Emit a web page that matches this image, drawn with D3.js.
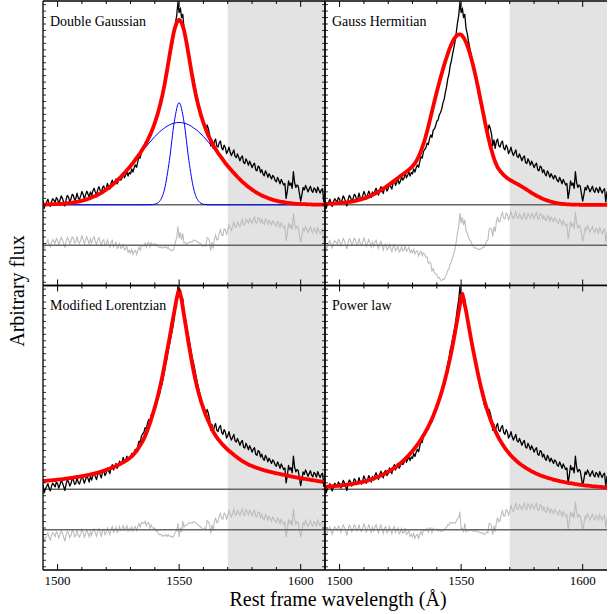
<!DOCTYPE html>
<html lang="en">
<head>
    <meta charset="UTF-8">
    <title>Line profile fits</title>
    <script src="https://d3js.org/d3.v7.min.js"></script>
    <style>
        body {
            margin: 0;
            background-color: #fff;
        }
        svg {
            display: block;
        }
        text {
            font-family: "Liberation Serif", "Times New Roman", serif;
            fill: #000;
        }
    </style>
</head>
<body>
    <svg id="chart" width="608" height="614"></svg>

    <script>
        // wavelength grid of the spectrum (Å), 0.5 Å per pixel, 1494 - 1610
        const wavelengths = d3.range(1494, 1610.25, 0.5);

        // observed line profile (arbitrary flux, peak ~100), 10 values per row = 5 Å
        const observed = [
            2.2, -1.8, 0.2, 1.4, 2.8, 0.6, -0.8, 1.6, 3.0, 2.2,
            1.2, 3.6, 2.8, 0.6, 2.4, 4.4, 3.2, 1.4, -0.6, 2.6,
            4.6, 3.8, 1.6, 2.8, 5.2, 4.6, 2.4, 3.0, 5.8, 3.4,
            2.6, 4.4, 6.6, 5.2, 3.0, 4.8, 6.8, 5.4, 3.6, 6.4,
            4.6, 6.8, 8.2, 6.4, 4.8, 7.4, 9.0, 7.2, 5.6, 8.6,
            9.4, 6.8, 8.0, 10.6, 9.0, 7.8, 10.8, 12.2, 9.6, 11.0,
            12.8, 10.4, 11.6, 14.0, 12.2, 13.2, 15.8, 13.4, 14.6, 16.4,
            14.2, 16.0, 15.4, 17.8, 16.2, 18.4, 19.8, 18.6, 21.4, 23.8,
            23.2, 26.4, 27.4, 28.2, 30.6, 29.8, 32.8, 34.6, 33.4, 37.0,
            37.6, 39.2, 41.4, 42.0, 44.6, 45.6, 47.4, 50.4, 52.2, 55.6,
            58.4, 62.4, 64.8, 69.0, 71.4, 74.8, 77.8, 81.0, 85.4, 90.2,
            93.8, 100.4, 95.2, 97.6, 92.8, 94.4, 87.6, 85.0, 81.2, 78.0,
            75.0, 71.4, 68.0, 64.6, 62.2, 59.0, 55.8, 52.8, 50.0, 47.4,
            44.8, 42.0, 40.2, 39.2, 36.8, 39.6, 37.8, 35.0, 29.2, 32.2,
            28.0, 31.4, 32.6, 29.2, 28.6, 30.8, 31.6, 28.2, 27.2, 29.6,
            28.4, 25.4, 26.6, 28.6, 26.0, 24.4, 25.8, 27.2, 24.0, 23.4,
            25.2, 23.6, 21.8, 23.4, 24.2, 21.0, 20.4, 22.8, 21.4, 19.6,
            21.6, 20.2, 18.4, 19.8, 20.6, 17.4, 16.8, 19.2, 18.6, 16.0,
            17.4, 15.2, 14.4, 16.8, 15.6, 13.6, 15.4, 14.2, 12.8, 14.6,
            13.8, 12.0, 11.4, 13.6, 12.2, 10.4, 12.6, 11.2, 9.8, 10.6,
            3.2, 6.8, 11.8, 9.6, 10.8, 8.2, 16.4, 11.0, 8.6, 9.8,
            9.2, 5.4, 1.8, 5.0, 8.6, 7.4, 9.6, 8.2, 6.4, 7.8,
            9.2, 7.0, 6.2, 8.4, 7.6, 6.0, 8.8, 7.2, 5.8, 7.4,
            8.0, 1.4, 6.6
        ];

        // fitted models on the same grid
        const doubleGaussian = [
            0.1, 0.1, 0.1, 0.15, 0.2, 0.2, 0.2, 0.25, 0.3, 0.3,
            0.3, 0.35, 0.4, 0.45, 0.5, 0.5, 0.5, 0.55, 0.6, 0.7,
            0.8, 0.85, 0.9, 1.0, 1.1, 1.2, 1.3, 1.4, 1.5, 1.6,
            1.7, 1.85, 2.0, 2.15, 2.3, 2.5, 2.7, 2.9, 3.1, 3.35,
            3.6, 3.85, 4.1, 4.35, 4.6, 4.95, 5.3, 5.6, 5.9, 6.3,
            6.7, 7.1, 7.5, 7.95, 8.4, 8.85, 9.3, 9.85, 10.4, 10.9,
            11.4, 12.0, 12.6, 13.2, 13.8, 14.45, 15.1, 15.75, 16.4, 17.1,
            17.8, 18.5, 19.2, 19.95, 20.7, 21.55, 22.4, 23.2, 24.0, 24.85,
            25.7, 26.65, 27.6, 28.6, 29.6, 30.75, 31.9, 33.15, 34.4, 35.85,
            37.3, 38.95, 40.6, 42.45, 44.3, 46.5, 48.7, 51.2, 53.7, 56.65,
            59.6, 63.0, 66.4, 70.0, 73.6, 77.2, 80.6, 83.7, 86.5, 88.5,
            90.2, 91.2, 91.8, 91.2, 90.2, 88.5, 86.5, 83.7, 80.6, 77.2,
            73.6, 70.0, 66.4, 63.0, 59.6, 56.65, 53.7, 51.2, 48.7, 46.5,
            44.3, 42.45, 40.6, 38.95, 37.3, 35.85, 34.4, 33.15, 31.9, 30.75,
            29.6, 28.6, 27.6, 26.65, 25.7, 24.85, 24.0, 23.2, 22.4, 21.55,
            20.7, 19.95, 19.2, 18.5, 17.8, 17.1, 16.4, 15.75, 15.1, 14.45,
            13.8, 13.2, 12.6, 12.0, 11.4, 10.9, 10.4, 9.85, 9.3, 8.85,
            8.4, 7.95, 7.5, 7.1, 6.7, 6.3, 5.9, 5.6, 5.3, 4.95,
            4.6, 4.35, 4.1, 3.85, 3.6, 3.35, 3.1, 2.9, 2.7, 2.5,
            2.3, 2.15, 2.0, 1.85, 1.7, 1.6, 1.5, 1.4, 1.3, 1.2,
            1.1, 1.0, 0.9, 0.85, 0.8, 0.7, 0.6, 0.55, 0.5, 0.5,
            0.5, 0.45, 0.4, 0.35, 0.3, 0.3, 0.3, 0.25, 0.2, 0.2,
            0.2, 0.15, 0.1, 0.1, 0.1, 0.1, 0.1, 0.1, 0.1, 0.1,
            0.1, 0.05, 0.0
        ];
        const gaussHermitian = [
            0.5, 0.5, 0.5, 0.55, 0.6, 0.6, 0.6, 0.65, 0.7, 0.75,
            0.8, 0.85, 0.9, 0.95, 1.0, 1.05, 1.1, 1.15, 1.2, 1.3,
            1.4, 1.5, 1.6, 1.7, 1.8, 1.95, 2.1, 2.25, 2.4, 2.55,
            2.7, 2.9, 3.1, 3.3, 3.5, 3.75, 4.0, 4.3, 4.6, 4.9,
            5.2, 5.5, 5.8, 6.15, 6.5, 6.85, 7.2, 7.6, 8.0, 8.4,
            8.8, 9.25, 9.7, 10.15, 10.6, 11.05, 11.5, 11.95, 12.4, 12.85,
            13.3, 13.75, 14.2, 14.65, 15.1, 15.55, 16.0, 16.45, 16.9, 17.4,
            17.9, 18.5, 19.1, 19.85, 20.6, 21.6, 22.6, 23.9, 25.2, 26.8,
            28.4, 30.2, 32.0, 34.2, 36.4, 38.8, 41.2, 43.7, 46.2, 48.7,
            51.2, 53.6, 56.0, 58.3, 60.6, 62.8, 65.0, 67.1, 69.2, 71.1,
            73.0, 74.8, 76.6, 78.1, 79.6, 80.8, 82.0, 82.8, 83.6, 84.1,
            84.5, 84.5, 84.3, 83.7, 82.9, 81.8, 80.5, 79.0, 77.3, 75.4,
            73.3, 71.0, 68.7, 66.1, 63.5, 60.7, 57.9, 54.9, 51.9, 48.9,
            45.9, 42.9, 39.9, 37.1, 34.3, 31.8, 29.3, 27.1, 24.9, 23.0,
            21.3, 19.9, 18.6, 17.7, 16.8, 16.1, 15.4, 14.8, 14.2, 13.7,
            13.2, 12.8, 12.4, 12.05, 11.7, 11.35, 11.0, 10.7, 10.4, 10.05,
            9.7, 9.35, 9.0, 8.65, 8.3, 7.9, 7.5, 7.1, 6.7, 6.3,
            5.9, 5.55, 5.2, 4.85, 4.5, 4.2, 3.9, 3.6, 3.3, 3.05,
            2.8, 2.55, 2.3, 2.1, 1.9, 1.7, 1.5, 1.35, 1.2, 1.05,
            0.9, 0.8, 0.7, 0.6, 0.5, 0.45, 0.4, 0.35, 0.3, 0.25,
            0.2, 0.2, 0.15, 0.1, 0.1, 0.1, 0.1, 0.1, 0.05, 0.05,
            0, 0, 0, 0, 0, 0, 0, 0, 0, 0,
            0, 0, 0, 0, 0, 0, 0, 0, 0, 0,
            0, 0, 0
        ];
        const modLorentzian = [
            4.1, 4.15, 4.2, 4.25, 4.3, 4.35, 4.4, 4.45, 4.5, 4.55,
            4.6, 4.7, 4.8, 4.85, 4.9, 4.95, 5.0, 5.1, 5.2, 5.3,
            5.4, 5.45, 5.5, 5.6, 5.7, 5.8, 5.9, 6.0, 6.1, 6.2,
            6.3, 6.4, 6.5, 6.6, 6.7, 6.85, 7.0, 7.1, 7.2, 7.35,
            7.5, 7.65, 7.8, 7.95, 8.1, 8.25, 8.4, 8.6, 8.8, 9.0,
            9.2, 9.4, 9.6, 9.8, 10.0, 10.25, 10.5, 10.75, 11.0, 11.25,
            11.5, 11.8, 12.1, 12.4, 12.7, 13.05, 13.4, 13.75, 14.1, 14.5,
            14.9, 15.35, 15.8, 16.35, 16.9, 17.6, 18.3, 19.1, 19.9, 20.85,
            21.8, 22.85, 23.9, 25.1, 26.4, 27.9, 29.4, 31.1, 32.8, 34.7,
            36.6, 38.6, 40.6, 42.8, 45.0, 47.5, 50.0, 52.7, 55.4, 58.5,
            61.6, 64.9, 68.2, 71.4, 74.6, 78.0, 81.4, 84.7, 88.0, 91.3,
            94.6, 97.2, 98.8, 96.6, 94.0, 90.2, 86.4, 82.7, 79.0, 75.3,
            71.6, 68.1, 64.6, 61.4, 58.2, 55.4, 52.6, 50.2, 47.8, 45.7,
            43.6, 41.8, 40.0, 38.3, 36.6, 35.2, 33.8, 32.45, 31.1, 29.85,
            28.6, 27.6, 26.6, 25.75, 24.9, 24.15, 23.4, 22.7, 22.0, 21.4,
            20.8, 20.2, 19.6, 19.1, 18.6, 18.1, 17.6, 17.1, 16.6, 16.15,
            15.7, 15.25, 14.8, 14.4, 14.0, 13.65, 13.3, 12.95, 12.6, 12.3,
            12.0, 11.75, 11.5, 11.25, 11.0, 10.8, 10.6, 10.4, 10.2, 10.0,
            9.8, 9.6, 9.4, 9.25, 9.1, 8.95, 8.8, 8.65, 8.5, 8.35,
            8.2, 8.05, 7.9, 7.8, 7.7, 7.55, 7.4, 7.3, 7.2, 7.05,
            6.9, 6.8, 6.7, 6.55, 6.4, 6.25, 6.1, 6.0, 5.9, 5.8,
            5.7, 5.6, 5.5, 5.4, 5.3, 5.2, 5.1, 5.0, 4.9, 4.8,
            4.7, 4.6, 4.5, 4.4, 4.3, 4.2, 4.1, 4.0, 3.9, 3.85,
            3.8, 3.7, 3.6
        ];
        const powerLaw = [
            1.2, 1.25, 1.3, 1.35, 1.4, 1.45, 1.5, 1.55, 1.6, 1.65,
            1.7, 1.75, 1.8, 1.9, 2.0, 2.05, 2.1, 2.2, 2.3, 2.35,
            2.4, 2.5, 2.6, 2.7, 2.8, 2.9, 3.0, 3.15, 3.3, 3.4,
            3.5, 3.65, 3.8, 3.95, 4.1, 4.3, 4.5, 4.7, 4.9, 5.1,
            5.3, 5.55, 5.8, 6.05, 6.3, 6.55, 6.8, 7.1, 7.4, 7.7,
            8.0, 8.35, 8.7, 9.05, 9.4, 9.8, 10.2, 10.6, 11.0, 11.45,
            11.9, 12.4, 12.9, 13.45, 14.0, 14.55, 15.1, 15.7, 16.3, 16.95,
            17.6, 18.3, 19.0, 19.75, 20.5, 21.3, 22.1, 22.95, 23.8, 24.75,
            25.7, 26.7, 27.7, 28.8, 29.9, 31.1, 32.3, 33.6, 34.9, 36.35,
            37.8, 39.4, 41.0, 42.75, 44.5, 46.4, 48.3, 50.45, 52.6, 54.95,
            57.3, 59.9, 62.5, 65.35, 68.2, 71.3, 74.4, 77.8, 81.2, 84.6,
            88.0, 91.5, 95.0, 97.0, 94.0, 91.3, 88.6, 85.2, 81.8, 78.4,
            75.0, 71.8, 68.6, 65.6, 62.6, 59.7, 56.8, 54.1, 51.4, 49.0,
            46.6, 44.4, 42.2, 40.25, 38.3, 36.55, 34.8, 33.25, 31.7, 30.35,
            29.0, 27.75, 26.5, 25.4, 24.3, 23.3, 22.3, 21.4, 20.5, 19.7,
            18.9, 18.15, 17.4, 16.75, 16.1, 15.5, 14.9, 14.35, 13.8, 13.3,
            12.8, 12.35, 11.9, 11.5, 11.1, 10.7, 10.3, 9.95, 9.6, 9.25,
            8.9, 8.6, 8.3, 8.0, 7.7, 7.45, 7.2, 6.95, 6.7, 6.5,
            6.3, 6.1, 5.9, 5.7, 5.5, 5.35, 5.2, 5.0, 4.8, 4.65,
            4.5, 4.35, 4.2, 4.05, 3.9, 3.8, 3.7, 3.55, 3.4, 3.3,
            3.2, 3.1, 3.0, 2.9, 2.8, 2.7, 2.6, 2.5, 2.4, 2.3,
            2.2, 2.15, 2.1, 2.0, 1.9, 1.85, 1.8, 1.75, 1.7, 1.6,
            1.5, 1.45, 1.4, 1.35, 1.3, 1.25, 1.2, 1.15, 1.1, 1.0,
            0.9, 0.85, 0.8
        ];

        // the two components of the double gaussian, every 2 Å
        const componentWavelengths = d3.range(1494, 1611, 2);
        const broadComponent = [
            0.11, 0.17, 0.25, 0.37, 0.53, 0.76, 1.07, 1.5, 2.0, 2.7,
            3.6, 4.6, 5.9, 7.5, 9.3, 11.4, 13.8, 16.4, 19.2, 22.2,
            25.2, 28.2, 31.1, 33.8, 36.2, 38.1, 39.6, 40.5, 40.8, 40.5,
            39.6, 38.1, 36.2, 33.8, 31.1, 28.2, 25.2, 22.2, 19.2, 16.4,
            13.8, 11.4, 9.3, 7.5, 5.9, 4.6, 3.6, 2.7, 2.0, 1.5,
            1.07, 0.76, 0.53, 0.37, 0.25, 0.17, 0.11, 0.07, 0.05
        ];
        const narrowComponent = [
            0, 0, 0, 0, 0, 0, 0, 0, 0, 0,
            0, 0, 0, 0, 0, 0, 0, 0, 0, 0,
            0, 0, 0.03, 0.28, 1.8, 7.8, 22.0, 41.1, 50.6, 41.1,
            22.0, 7.8, 1.8, 0.28, 0.03, 0, 0, 0, 0, 0,
            0, 0, 0, 0, 0, 0, 0, 0, 0, 0,
            0, 0, 0, 0, 0, 0, 0, 0, 0
        ];

        const panelNames = ["Double Gaussian", "Gauss Hermitian", "Modified Lorentzian", "Power law"];
        const panelModels = [doubleGaussian, gaussHermitian, modLorentzian, powerLaw];
        const xTickLabels = [1500, 1550, 1600];
        const excludedRange = [1570, 1610];

        const svg = d3.select("#chart");
        const panelW = 282, panelH = 284.5;
        const residualOffset = -20;

        const x = d3.scaleLinear().domain([1494, 1610]).range([0, panelW]);
        const y = d3.scaleLinear().domain([-40, 101]).range([panelH, 0]);

        const line = d3.line()
            .x((d, i) => x(wavelengths[i]))
            .y(d => y(d));
        const smoothLine = d3.line()
            .x((d, i) => x(wavelengths[i]))
            .y(d => y(d))
            .curve(d3.curveMonotoneX);
        const componentLine = d3.line()
            .x((d, i) => x(componentWavelengths[i]))
            .y(d => y(d))
            .curve(d3.curveMonotoneX);

        panelNames.forEach((name, p) => {
            const col = p % 2, row = Math.floor(p / 2);
            const left = 43 + col * panelW;
            const top = 1 + row * panelH;
            const model = panelModels[p];
            const g = svg.append("g").attr("transform", `translate(${left},${top})`);

            g.append("clipPath").attr("id", "clip" + p)
                .append("rect").attr("width", panelW).attr("height", panelH);
            const inner = g.append("g").attr("clip-path", `url(#clip${p})`);

            // region left out of the fit
            inner.append("rect")
                .attr("x", x(excludedRange[0]))
                .attr("y", 0)
                .attr("width", x(excludedRange[1]) - x(excludedRange[0]))
                .attr("height", panelH)
                .attr("fill", "#e3e3e3");

            // residuals, shifted below the profile
            const residual = observed.map((v, i) => v - model[i] + residualOffset);
            inner.append("path")
                .attr("d", line(residual))
                .attr("fill", "none")
                .attr("stroke", "#bcbcbc")
                .attr("stroke-width", 1.1);

            [0, residualOffset].forEach(v => {
                inner.append("line")
                    .attr("x1", 0).attr("x2", panelW)
                    .attr("y1", y(v)).attr("y2", y(v))
                    .attr("stroke", "#666")
                    .attr("stroke-width", 1.5);
            });

            inner.append("path")
                .attr("d", line(observed))
                .attr("fill", "none")
                .attr("stroke", "#000")
                .attr("stroke-width", 1.3)
                .attr("stroke-linejoin", "round");

            if (p === 0) {
                [broadComponent, narrowComponent].forEach(comp => {
                    inner.append("path")
                        .attr("d", componentLine(comp))
                        .attr("fill", "none")
                        .attr("stroke", "#0000ff")
                        .attr("stroke-width", 1);
                });
            }

            inner.append("path")
                .attr("d", smoothLine(model))
                .attr("fill", "none")
                .attr("stroke", "#ff0000")
                .attr("stroke-width", 3.8)
                .attr("stroke-linejoin", "round");

            // frame (right edge of the right column is cut off)
            const frame = [[0, 0, panelW, 0], [0, panelH, panelW, panelH], [0, 0, 0, panelH]];
            if (col === 0) frame.push([panelW, 0, panelW, panelH]);
            frame.forEach(f => {
                g.append("line")
                    .attr("x1", f[0]).attr("y1", f[1]).attr("x2", f[2]).attr("y2", f[3])
                    .attr("stroke", "#000").attr("stroke-width", 1.3);
            });

            // inward ticks
            d3.range(1500, 1610, 10).forEach(t => {
                const len = t % 50 === 0 ? 6 : 3;
                g.append("line").attr("x1", x(t)).attr("x2", x(t))
                    .attr("y1", 0).attr("y2", len)
                    .attr("stroke", "#000").attr("stroke-width", 1);
                g.append("line").attr("x1", x(t)).attr("x2", x(t))
                    .attr("y1", panelH).attr("y2", panelH - len)
                    .attr("stroke", "#000").attr("stroke-width", 1);
            });
            d3.range(-38.4, 101, 3.2).forEach(t => {
                g.append("line").attr("x1", 0).attr("x2", 3)
                    .attr("y1", y(t)).attr("y2", y(t))
                    .attr("stroke", "#000").attr("stroke-width", 0.8);
                if (col === 0) {
                    g.append("line").attr("x1", panelW).attr("x2", panelW - 3)
                        .attr("y1", y(t)).attr("y2", y(t))
                        .attr("stroke", "#000").attr("stroke-width", 0.8);
                }
            });

            g.append("text")
                .attr("x", 7)
                .attr("y", 24.5)
                .attr("font-size", 14)
                .text(name);

            if (row === 1) {
                xTickLabels.forEach(t => {
                    g.append("text")
                        .attr("x", x(t))
                        .attr("y", panelH + 14.5)
                        .attr("text-anchor", "middle")
                        .attr("font-size", 13)
                        .text(t);
                });
            }
        });

        svg.append("text")
            .attr("x", 338)
            .attr("y", 605.5)
            .attr("text-anchor", "middle")
            .attr("font-size", 20)
            .text("Rest frame wavelength (Å)");

        svg.append("text")
            .attr("transform", "translate(24,291) rotate(-90)")
            .attr("text-anchor", "middle")
            .attr("font-size", 20)
            .text("Arbitrary flux");
    </script>
</body>
</html>
